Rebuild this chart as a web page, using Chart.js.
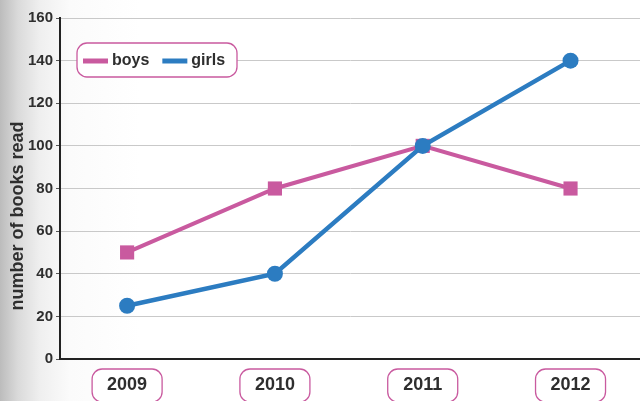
<!DOCTYPE html>
<html>
<head>
<meta charset="utf-8">
<script src="https://cdn.jsdelivr.net/npm/chart.js@4"></script>
<style>
  html, body { margin: 0; padding: 0; }
  body {
    width: 640px; height: 401px; overflow: hidden;
    background: linear-gradient(to right, #bcbcbc 0px, #dadada 18px, #efefef 40px, #fbfbfb 70px, #ffffff 140px);
  }
  #wrap { position: relative; width: 640px; height: 401px; }
</style>
</head>
<body>
<div id="wrap"><canvas id="booksChart"></canvas></div>
<script>
// Books read per year
const years = [2009, 2010, 2011, 2012];
const boys = [50, 80, 100, 80];
const girls = [25, 40, 100, 140];
const yTicks = { min: 0, max: 160, step: 20 };
const yTitle = 'number of books read';

const pink = '#c95a9f';
const blue = '#2c7cc1';
const ink = '#2e2e2e';
const font = 'Liberation Sans, Arial, sans-serif';

function toPoints(values) {
  return years.map((yr, i) => ({ x: yr, y: values[i] }));
}

function roundBox(ctx, x, y, w, h, r) {
  ctx.beginPath();
  ctx.moveTo(x + r, y);
  ctx.arcTo(x + w, y, x + w, y + h, r);
  ctx.arcTo(x + w, y + h, x, y + h, r);
  ctx.arcTo(x, y + h, x, y, r);
  ctx.arcTo(x, y, x + w, y, r);
  ctx.closePath();
}

// axis title, boxed year labels under the axis and the boxed legend
const boxedLabels = {
  id: 'boxedLabels',
  afterDraw(chart) {
    const ctx = chart.ctx;
    const xs = chart.scales.x;
    ctx.save();

    ctx.save();
    ctx.translate(18, 216);
    ctx.rotate(-Math.PI / 2);
    ctx.font = 'bold 18px ' + font;
    ctx.fillStyle = ink;
    ctx.textAlign = 'center';
    ctx.textBaseline = 'middle';
    ctx.fillText(yTitle, 0, 0);
    ctx.restore();

    ctx.font = 'bold 18px ' + font;
    ctx.textAlign = 'center';
    ctx.textBaseline = 'middle';
    years.forEach(yr => {
      const cx = xs.getPixelForValue(yr);
      roundBox(ctx, cx - 35, 369, 70, 33, 10);
      ctx.fillStyle = '#ffffff';
      ctx.fill();
      ctx.strokeStyle = pink;
      ctx.lineWidth = 1.3;
      ctx.stroke();
      ctx.fillStyle = ink;
      ctx.fillText(String(yr), cx, 385);
    });

    // legend
    roundBox(ctx, 77, 43, 160, 34, 10);
    ctx.fillStyle = '#ffffff';
    ctx.fill();
    ctx.strokeStyle = pink;
    ctx.lineWidth = 1.3;
    ctx.stroke();
    ctx.font = 'bold 16px ' + font;
    ctx.textAlign = 'left';
    let lx = 83;
    chart.data.datasets.slice().sort((a, b) => b.order - a.order).forEach(ds => {
      ctx.strokeStyle = ds.borderColor;
      ctx.lineWidth = 5;
      ctx.beginPath();
      ctx.moveTo(lx, 61);
      ctx.lineTo(lx + 25, 61);
      ctx.stroke();
      ctx.fillStyle = ink;
      ctx.fillText(ds.label, lx + 29, 61);
      lx += 29 + ctx.measureText(ds.label).width + 13;
    });
    ctx.restore();
  }
};

new Chart(document.getElementById('booksChart'), {
  type: 'line',
  data: {
    datasets: [
      {
        label: 'boys',
        data: toPoints(boys),
        borderColor: pink,
        backgroundColor: pink,
        borderWidth: 4,
        pointStyle: 'rect',
        pointRadius: 10,
        pointBorderWidth: 0,
        order: 1
      },
      {
        label: 'girls',
        data: toPoints(girls),
        borderColor: blue,
        backgroundColor: blue,
        borderWidth: 4.5,
        pointStyle: 'circle',
        pointRadius: 8,
        pointBorderWidth: 0,
        order: 0
      }
    ]
  },
  options: {
    responsive: true,
    maintainAspectRatio: false,
    animation: false,
    layout: { autoPadding: false, padding: { top: 18, bottom: 42, left: 0, right: 0 } },
    plugins: { legend: { display: false }, tooltip: { enabled: false } },
    scales: {
      x: {
        type: 'linear',
        min: 2008.546,
        max: 2012.47,
        ticks: { display: false },
        grid: { display: false },
        border: { display: true, color: '#222', width: 2 },
        afterFit(scale) { scale.height = 0; }
      },
      y: {
        min: yTicks.min,
        max: yTicks.max,
        ticks: {
          stepSize: yTicks.step,
          color: ink,
          padding: 3,
          font: { family: font, size: 15, weight: 'bold' }
        },
        grid: { color: '#c9c9c9', lineWidth: 1, tickLength: 4, tickColor: '#555' },
        border: { display: true, color: '#222', width: 2 },
        title: { display: false },
        afterFit(scale) { scale.width = 60; }
      }
    }
  },
  plugins: [boxedLabels]
});
</script>
</body>
</html>
